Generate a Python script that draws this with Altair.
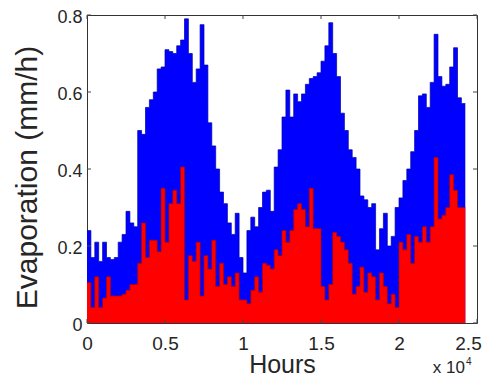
import altair as alt
import pandas as pd

# ---- data (hours, evaporation in mm/h) ----
bin_width_h = 250
hours = [i * bin_width_h for i in range(97)]

total = [
    0.24, 0.17, 0.21, 0.16, 0.21, 0.17, 0.165, 0.17, 0.21, 0.23,
    0.29, 0.26, 0.25, 0.50, 0.49, 0.56, 0.58, 0.60, 0.66, 0.665,
    0.71, 0.705, 0.70, 0.72, 0.735, 0.79, 0.70, 0.625, 0.66, 0.775,
    0.67, 0.52, 0.46, 0.40, 0.34, 0.31, 0.26, 0.23, 0.285, 0.17,
    0.13, 0.24, 0.275, 0.25, 0.30, 0.34, 0.345, 0.29, 0.405, 0.45,
    0.535, 0.605, 0.535, 0.595, 0.575, 0.595, 0.62, 0.635, 0.64, 0.65,
    0.68, 0.72, 0.78, 0.70, 0.64, 0.545, 0.50, 0.45, 0.43, 0.40,
    0.33, 0.32, 0.30, 0.31, 0.19, 0.245, 0.285, 0.20, 0.225, 0.30,
    0.325, 0.37, 0.40, 0.445, 0.50, 0.59, 0.595, 0.56, 0.625, 0.75,
    0.64, 0.615, 0.62, 0.665, 0.715, 0.585, 0.57,
]

red = [
    0.105, 0.04, 0.12, 0.04, 0.065, 0.12, 0.07, 0.07, 0.07, 0.075,
    0.085, 0.10, 0.10, 0.155, 0.26, 0.17, 0.215, 0.215, 0.185, 0.35,
    0.21, 0.31, 0.345, 0.31, 0.405, 0.06, 0.175, 0.16, 0.21, 0.07,
    0.175, 0.14, 0.215, 0.095, 0.155, 0.10, 0.12, 0.095, 0.13, 0.06,
    0.06, 0.05, 0.085, 0.12, 0.08, 0.155, 0.15, 0.14, 0.19, 0.175,
    0.24, 0.21, 0.24, 0.295, 0.31, 0.295, 0.25, 0.35, 0.245, 0.245,
    0.095, 0.06, 0.10, 0.235, 0.225, 0.21, 0.19, 0.155, 0.075, 0.095,
    0.145, 0.08, 0.13, 0.12, 0.06, 0.13, 0.095, 0.05, 0.075, 0.04,
    0.21, 0.19, 0.23, 0.155, 0.225, 0.21, 0.25, 0.21, 0.25, 0.43,
    0.27, 0.28, 0.30, 0.385, 0.345, 0.30, 0.30,
]

x_ticks = [0, 5000, 10000, 15000, 20000, 25000]
y_ticks = [0, 0.2, 0.4, 0.6, 0.8]

# step table (closing edge added so the last step has its width)
end_hour = hours[-1] + bin_width_h
df = pd.DataFrame({
    "hour": hours + [end_hour],
    "total": total + [total[-1]],
    "red": red + [red[-1]],
})
yt = pd.DataFrame({"v": y_ticks})
xt = pd.DataFrame({"v": x_ticks})

W, H = 390, 308
FONT = "Liberation Sans"
TXT = "#262626"

xscale = alt.Scale(domain=[0, 25000], nice=False, zero=False)
yscale = alt.Scale(domain=[0, 0.8], nice=False)

xaxis = alt.Axis(
    values=x_ticks, labelExpr="format(datum.value / 10000, '~g')",
    grid=False, ticks=False, domain=False, labelFlush=False, labelOverlap=False,
    labelFontSize=19, labelPadding=11, labelColor=TXT, labelFont=FONT,
    labelOffset={"condition": {"test": "datum.value == 25000", "value": -9}, "value": 0},
    title="Hours", titleFontSize=25, titleFontWeight="normal", titleColor=TXT,
    titleFont=FONT, titleX=W / 2, titleY=49, titleBaseline="alphabetic",
)
yaxis = alt.Axis(
    values=y_ticks, format="~g",
    grid=False, ticks=False, domain=False, labelFlush=False, labelOverlap=False,
    labelFontSize=18, labelPadding=5, labelColor=TXT, labelFont=FONT, labelOffset=2,
    title="Evaporation (mm/h)", titleFontSize=30, titleFontWeight="normal",
    titleColor=TXT, titleFont=FONT, titleX=-51, titleY=162,
    titleBaseline="alphabetic", titleAngle=-90,
)

X = lambda f: alt.X(f, scale=xscale, axis=xaxis)
Y = lambda f: alt.Y(f, scale=yscale, axis=yaxis)

base = alt.Chart(df)
blue_area = base.mark_area(interpolate="step-after", color="#0000FF", opacity=1).encode(
    x=X("hour:Q"), y=Y("total:Q"))
blue_edge = base.mark_line(interpolate="step-after", color="#0000A8", strokeWidth=0.7).encode(
    x=X("hour:Q"), y=Y("total:Q"))
red_area = base.mark_area(interpolate="step-after", color="#FF0000", opacity=1).encode(
    x=X("hour:Q"), y=Y("red:Q"))
red_edge = base.mark_line(interpolate="step-after", color="#B00000", strokeWidth=0.7).encode(
    x=X("hour:Q"), y=Y("red:Q"))

TICK = "#444444"
ytick_l = alt.Chart(yt).mark_rule(color=TICK, strokeWidth=1).encode(
    y=Y("v:Q"), x=alt.value(0), x2=alt.value(4))
ytick_r = alt.Chart(yt).mark_rule(color=TICK, strokeWidth=1).encode(
    y=Y("v:Q"), x=alt.value(W - 4), x2=alt.value(W))
xtick_b = alt.Chart(xt).mark_rule(color=TICK, strokeWidth=1).encode(
    x=X("v:Q"), y=alt.value(H - 4), y2=alt.value(H))
xtick_t = alt.Chart(xt).mark_rule(color=TICK, strokeWidth=1).encode(
    x=X("v:Q"), y=alt.value(0), y2=alt.value(4))

mult = alt.Chart(pd.DataFrame({"t": ["x 10"]})).mark_text(
    align="right", baseline="alphabetic", fontSize=17, font=FONT, color=TXT
).encode(text="t:N", x=alt.value(378), y=alt.value(358))
expo = alt.Chart(pd.DataFrame({"t": ["4"]})).mark_text(
    align="left", baseline="alphabetic", fontSize=10, font=FONT, color=TXT
).encode(text="t:N", x=alt.value(379), y=alt.value(350))

chart = alt.layer(
    blue_area, blue_edge, red_area, red_edge,
    ytick_l, ytick_r, xtick_b, xtick_t, mult, expo,
).properties(
    width=W, height=H,
    autosize=alt.AutoSizeParams(type="none"),
    padding={"left": 79, "top": 7, "right": 5, "bottom": 55},
    background="white",
).configure_view(stroke="#333333", strokeWidth=1)

chart.save("out.html", embed_options={"renderer": "svg", "actions": False})
